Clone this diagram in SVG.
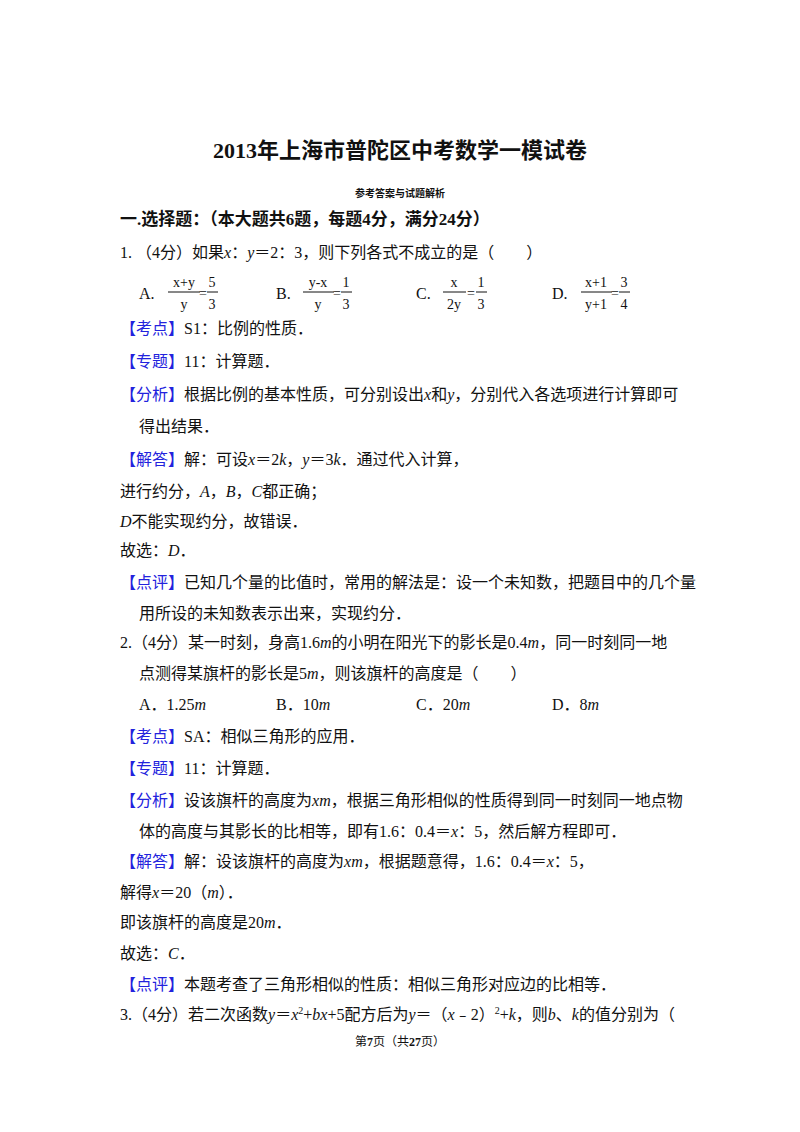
<svg xmlns="http://www.w3.org/2000/svg" width="800" height="1132" viewBox="0 0 800 1132">
<style>
text{font-family:"Liberation Serif","Noto Sans CJK SC",serif;font-size:16px;fill:#111}
.b{color:#2222dd;fill:#2222dd}
.i{font-style:italic}
.f{font-size:14px;text-anchor:middle}
.t{font-weight:bold}
line{stroke:#111;stroke-width:1}
</style>
<rect width="800" height="1132" fill="#fff"/>
<text x="400" y="158" class="t" style="font-size:22px" text-anchor="middle">2013年上海市普陀区中考数学一模试卷</text>
<text x="400" y="197" class="t" style="font-size:10px" text-anchor="middle">参考答案与试题解析</text>
<text x="120" y="225" class="t" style="font-size:17px">一.选择题：（本大题共6题，每题4分，满分24分）</text>
<text x="120" y="258">1. （4分）如果<tspan class="i">x</tspan>：<tspan class="i">y</tspan>＝2：3，则下列各式不成立的是（　　）</text>
<g id="options1">
<text x="139" y="299">A.</text>
<text x="184" y="287" class="f">x+y</text><line x1="168" y1="292" x2="200" y2="292"/><text x="184" y="309" class="f">y</text>
<text x="203" y="298" class="f">=</text>
<text x="212" y="287" class="f">5</text><line x1="207" y1="292" x2="218" y2="292"/><text x="212" y="309" class="f">3</text>
<text x="276" y="299">B.</text>
<text x="318" y="287" class="f">y-x</text><line x1="303" y1="292" x2="334" y2="292"/><text x="318" y="309" class="f">y</text>
<text x="337" y="298" class="f">=</text>
<text x="346" y="287" class="f">1</text><line x1="341" y1="292" x2="352" y2="292"/><text x="346" y="309" class="f">3</text>
<text x="416" y="299">C.</text>
<text x="454" y="287" class="f">x</text><line x1="443" y1="292" x2="466" y2="292"/><text x="454" y="309" class="f">2y</text>
<text x="471" y="298" class="f">=</text>
<text x="481" y="287" class="f">1</text><line x1="476" y1="292" x2="487" y2="292"/><text x="481" y="309" class="f">3</text>
<text x="552" y="299">D.</text>
<text x="596" y="287" class="f">x+1</text><line x1="581" y1="292" x2="612" y2="292"/><text x="596" y="309" class="f">y+1</text>
<text x="615" y="298" class="f">=</text>
<text x="624" y="287" class="f">3</text><line x1="619" y1="292" x2="630" y2="292"/><text x="624" y="309" class="f">4</text>
</g>
<text x="120" y="334"><tspan class="b">【考点】</tspan>S1：比例的性质．</text>
<text x="120" y="367"><tspan class="b">【专题】</tspan>11：计算题．</text>
<text x="120" y="400"><tspan class="b">【分析】</tspan>根据比例的基本性质，可分别设出<tspan class="i">x</tspan>和<tspan class="i">y</tspan>，分别代入各选项进行计算即可</text>
<text x="139" y="432">得出结果．</text>
<text x="120" y="465"><tspan class="b">【解答】</tspan>解：可设<tspan class="i">x</tspan>＝2<tspan class="i">k</tspan>，<tspan class="i">y</tspan>＝3<tspan class="i">k</tspan>．通过代入计算，</text>
<text x="120" y="497">进行约分，<tspan class="i">A</tspan>，<tspan class="i">B</tspan>，<tspan class="i">C</tspan>都正确；</text>
<text x="120" y="527"><tspan class="i">D</tspan>不能实现约分，故错误．</text>
<text x="120" y="556">故选：<tspan class="i">D</tspan>．</text>
<text x="120" y="588"><tspan class="b">【点评】</tspan>已知几个量的比值时，常用的解法是：设一个未知数，把题目中的几个量</text>
<text x="139" y="619">用所设的未知数表示出来，实现约分．</text>
<text x="120" y="648">2.（4分）某一时刻，身高1.6<tspan class="i">m</tspan>的小明在阳光下的影长是0.4<tspan class="i">m</tspan>，同一时刻同一地</text>
<text x="139" y="679">点测得某旗杆的影长是5<tspan class="i">m</tspan>，则该旗杆的高度是（　　）</text>
<text x="139" y="710">A．1.25<tspan class="i">m</tspan></text>
<text x="276" y="710">B．10<tspan class="i">m</tspan></text>
<text x="416" y="710">C．20<tspan class="i">m</tspan></text>
<text x="552" y="710">D．8<tspan class="i">m</tspan></text>
<text x="120" y="742"><tspan class="b">【考点】</tspan>SA：相似三角形的应用．</text>
<text x="120" y="774"><tspan class="b">【专题】</tspan>11：计算题．</text>
<text x="120" y="806"><tspan class="b">【分析】</tspan>设该旗杆的高度为<tspan class="i">xm</tspan>，根据三角形相似的性质得到同一时刻同一地点物</text>
<text x="139" y="837">体的高度与其影长的比相等，即有1.6：0.4＝<tspan class="i">x</tspan>：5，然后解方程即可．</text>
<text x="120" y="867"><tspan class="b">【解答】</tspan>解：设该旗杆的高度为<tspan class="i">xm</tspan>，根据题意得，1.6：0.4＝<tspan class="i">x</tspan>：5，</text>
<text x="120" y="898">解得<tspan class="i">x</tspan>＝20（<tspan class="i">m</tspan>）．</text>
<text x="120" y="928">即该旗杆的高度是20<tspan class="i">m</tspan>．</text>
<text x="120" y="959">故选：<tspan class="i">C</tspan>．</text>
<text x="120" y="990"><tspan class="b">【点评】</tspan>本题考查了三角形相似的性质：相似三角形对应边的比相等．</text>
<text x="120" y="1020">3.（4分）若二次函数<tspan class="i">y</tspan>＝<tspan class="i">x</tspan><tspan dy="-6" style="font-size:10px">2</tspan><tspan dy="6">+</tspan><tspan class="i">bx</tspan>+5配方后为<tspan class="i">y</tspan>＝（<tspan class="i">x</tspan>﹣2）<tspan dy="-6" style="font-size:10px">2</tspan><tspan dy="6">+</tspan><tspan class="i">k</tspan>，则<tspan class="i">b</tspan>、<tspan class="i">k</tspan>的值分别为（</text>
<text x="400" y="1046" text-anchor="middle" style="font-size:12px">第<tspan class="t">7</tspan>页（共<tspan class="t">27</tspan>页）</text>
</svg>
